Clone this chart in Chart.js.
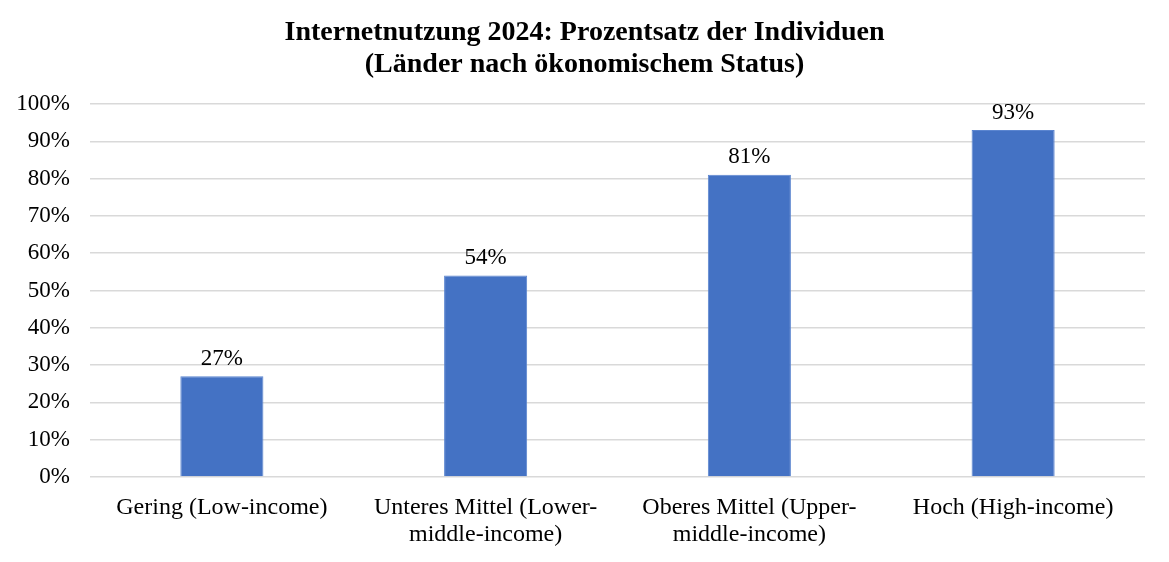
<!DOCTYPE html>
<html lang="de">
<head>
    <meta charset="UTF-8">
    <title>Internetnutzung 2024</title>
    <script src="https://cdn.jsdelivr.net/npm/chart.js"></script>
    <style>
        html, body { margin: 0; padding: 0; background: #fff; }
        .chart-container { width: 1169px; height: 562px; }
    </style>
</head>
<body>
    <div class="chart-container">
        <canvas id="usageChart"></canvas>
    </div>

    <script>
        const categories = [
            ['Gering (Low-income)'],
            ['Unteres Mittel (Lower-', 'middle-income)'],
            ['Oberes Mittel (Upper-', 'middle-income)'],
            ['Hoch (High-income)']
        ];
        const usagePercent = [27, 54, 81, 93];
        const titleLines = [
            'Internetnutzung 2024: Prozentsatz der Individuen',
            '(Länder nach ökonomischem Status)'
        ];

        const FONT = "'Liberation Serif', 'Times New Roman', serif";

        // labels above the bars
        const valueLabels = {
            id: 'valueLabels',
            afterDatasetsDraw(chart) {
                const ctx = chart.ctx;
                const meta = chart.getDatasetMeta(0);
                ctx.save();
                ctx.font = '23px ' + FONT;
                ctx.fillStyle = '#000';
                ctx.textAlign = 'center';
                ctx.textBaseline = 'bottom';
                meta.data.forEach((bar, i) => {
                    ctx.fillText(usagePercent[i] + '%', bar.x, bar.y - 6);
                });
                ctx.restore();
            }
        };

        // title centred on the whole page, not on the padded box
        const pageTitle = {
            id: 'pageTitle',
            afterDraw(chart) {
                const ctx = chart.ctx;
                ctx.save();
                ctx.font = 'bold 28px ' + FONT;
                ctx.fillStyle = '#000';
                ctx.textAlign = 'center';
                ctx.textBaseline = 'middle';
                titleLines.forEach((line, i) => {
                    ctx.fillText(line, chart.width / 2, 33 + i * 32);
                });
                ctx.restore();
            }
        };

        new Chart(document.getElementById('usageChart'), {
            type: 'bar',
            data: {
                labels: categories,
                datasets: [{
                    data: usagePercent,
                    backgroundColor: '#4472C4',
                    borderColor: '#5B85D0',
                    borderWidth: 1,
                    categoryPercentage: 1,
                    barPercentage: 0.315
                }]
            },
            options: {
                responsive: true,
                maintainAspectRatio: false,
                animation: false,
                layout: { padding: { left: 0, right: 24, top: 104, bottom: 0 } },
                plugins: {
                    legend: { display: false },
                    tooltip: { enabled: false },
                    title: { display: false }
                },
                scales: {
                    x: {
                        grid: { display: false, drawTicks: false },
                        border: { display: false },
                        ticks: {
                            color: '#000',
                            font: { family: FONT, size: 24, lineHeight: 1.1 },
                            maxRotation: 0,
                            autoSkip: false,
                            padding: 18
                        },
                        afterFit(scale) { scale.height = 85; }
                    },
                    y: {
                        min: 0,
                        max: 100,
                        grid: { color: '#D9D9D9', lineWidth: 1.5, drawTicks: false },
                        border: { display: false },
                        ticks: {
                            stepSize: 10,
                            color: '#000',
                            font: { family: FONT, size: 23 },
                            padding: 20,
                            callback: v => v + '%'
                        },
                        afterFit(scale) { scale.width = 90; }
                    }
                }
            },
            plugins: [valueLabels, pageTitle]
        });
    </script>
</body>
</html>
